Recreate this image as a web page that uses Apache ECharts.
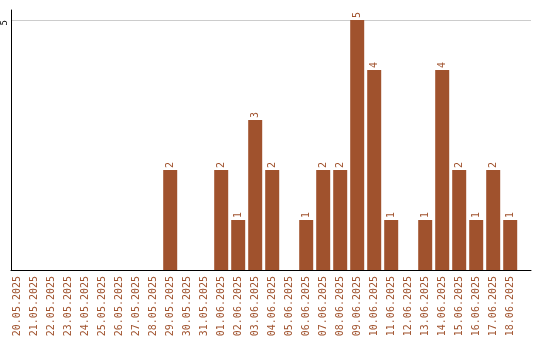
<!DOCTYPE html>
<html><head><meta charset="utf-8">
<script src="https://cdn.jsdelivr.net/npm/echarts@6/dist/echarts.min.js"></script>
<style>html,body{margin:0;padding:0;background:#fff}#c{width:540px;height:340px}</style>
</head><body><div id="c"></div>
<script>
const categories = ['20.05.2025','21.05.2025','22.05.2025','23.05.2025','24.05.2025','25.05.2025','26.05.2025','27.05.2025','28.05.2025','29.05.2025','30.05.2025','31.05.2025','01.06.2025','02.06.2025','03.06.2025','04.06.2025','05.06.2025','06.06.2025','07.06.2025','08.06.2025','09.06.2025','10.06.2025','11.06.2025','12.06.2025','13.06.2025','14.06.2025','15.06.2025','16.06.2025','17.06.2025','18.06.2025'];
const counts = [0,0,0,0,0,0,0,0,0,2,0,0,2,1,3,2,0,1,2,2,5,4,1,0,1,4,2,1,2,1];
const yTicks = [5];

const mono = 'DejaVu Sans Mono';
const brown = '#A0522D';
const chart = echarts.init(document.getElementById('c'));
chart.setOption({
  animation: false,
  grid: [
    {left: 11, top: 10, width: 520, height: 260},
    {left: 8.7, top: 10, width: 510, height: 260}
  ],
  xAxis: [
    {gridIndex: 0, type: 'value', min: 0, max: 1,
     axisLine: {show: true, lineStyle: {color: '#000', width: 1}},
     axisTick: {show: false}, axisLabel: {show: false}, splitLine: {show: false}},
    {gridIndex: 1, type: 'category', data: categories,
     axisLine: {show: false}, axisTick: {show: false},
     axisLabel: {rotate: 90, interval: 0, margin: 6, color: brown, fontFamily: mono, fontSize: 10}}
  ],
  yAxis: [
    {gridIndex: 0, type: 'value', min: 0, max: 5.2, interval: 5,
     axisLine: {show: true, lineStyle: {color: '#000', width: 1}},
     axisTick: {show: false},
     axisLabel: {rotate: 90, margin: 2, align: 'right', verticalAlign: 'bottom', color: '#000', fontFamily: mono, fontSize: 9,
       formatter: v => yTicks.includes(v) ? String(v) : ''},
     splitLine: {show: true, showMinLine: false, showMaxLine: false, lineStyle: {color: '#cccccc', width: 1}}},
    {gridIndex: 1, type: 'value', min: 0, max: 5.2, show: false, splitLine: {show: false}}
  ],
  series: [{
    type: 'bar', xAxisIndex: 1, yAxisIndex: 1, data: counts, barWidth: 14,
    itemStyle: {color: brown},
    label: {show: true, position: 'top', rotate: 90, align: 'left', verticalAlign: 'middle', distance: 2,
      color: brown, fontFamily: mono, fontSize: 10,
      formatter: p => p.value > 0 ? String(p.value) : ''}
  }]
});
</script></body></html>
